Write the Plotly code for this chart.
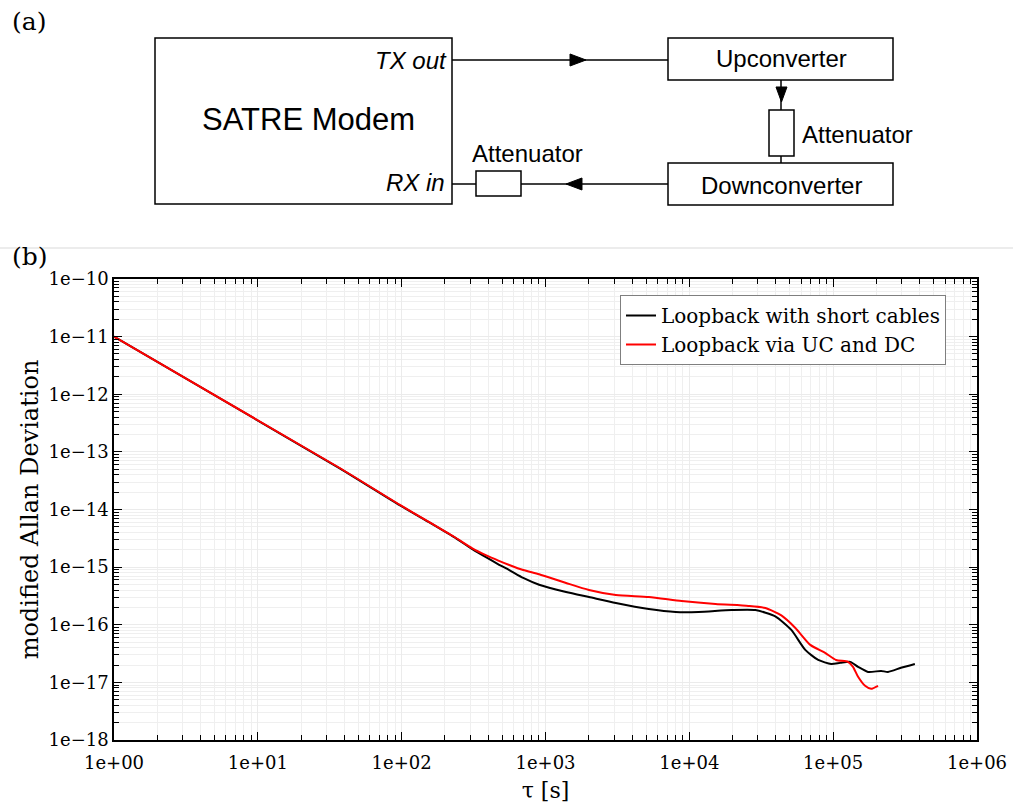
import plotly.graph_objects as go

# Modified Allan deviation, loopback with short cables
tau_short = [1, 37.1, 96.7, 160, 230, 310, 388, 470, 560, 700, 903, 1390, 2005, 3085,
             5224, 8035, 11590, 19630, 28790, 39600, 51170, 63970, 78700, 96850,
             111900, 131300, 149000, 174900, 215300, 240600, 296000, 369800]
mdev_short = [1.0e-11, 5.19e-14, 1.19e-14, 5.75e-15, 3.35e-15, 2.05e-15, 1.47e-15,
              1.12e-15, 8.9e-16, 6.5e-16, 4.95e-16, 3.70e-16, 3.03e-16, 2.39e-16,
              1.88e-16, 1.67e-16, 1.67e-16, 1.80e-16, 1.80e-16, 1.40e-16, 8.13e-17,
              3.66e-17, 2.45e-17, 2.09e-17, 2.18e-17, 2.27e-17, 1.86e-17, 1.52e-17,
              1.58e-17, 1.52e-17, 1.79e-17, 2.09e-17]

# Modified Allan deviation, loopback via upconverter and downconverter
tau_ucdc = [1, 37.1, 96.7, 160, 230, 310, 388, 470, 560, 700, 903, 1390, 2005, 3085,
            5224, 8850, 15210, 25760, 33800, 43620, 54600, 69330, 87950, 104800,
            126800, 137400, 149000, 166700, 183400, 205000]
mdev_ucdc = [1.0e-11, 5.25e-14, 1.21e-14, 5.8e-15, 3.4e-15, 2.12e-15, 1.6e-15,
             1.3e-15, 1.09e-15, 8.9e-16, 7.5e-16, 5.30e-16, 4.01e-16, 3.28e-16,
             3.03e-16, 2.58e-16, 2.29e-16, 2.12e-16, 1.95e-16, 1.45e-16, 8.8e-17,
             4.47e-17, 3.25e-17, 2.45e-17, 2.27e-17, 1.86e-17, 1.25e-17, 8.71e-18,
             7.73e-18, 8.71e-18]

series_names = ["Loopback with short cables", "Loopback via UC and DC"]

x_tickvals = [1e0, 1e1, 1e2, 1e3, 1e4, 1e5, 1e6]
x_ticktext = ["1e+00", "1e+01", "1e+02", "1e+03", "1e+04", "1e+05", "1e+06"]
y_tickvals = [1e-18, 1e-17, 1e-16, 1e-15, 1e-14, 1e-13, 1e-12, 1e-11, 1e-10]
y_ticktext = ["1e\u221218", "1e\u221217", "1e\u221216", "1e\u221215", "1e\u221214",
              "1e\u221213", "1e\u221212", "1e\u221211", "1e\u221210"]

W, H = 1013, 803
L, R, T, B = 114, 36, 279, 63
PW, PH = W - L - R, H - T - B

SERIF = "DejaVu Serif"
SANS = "Liberation Sans"


def px(x):
    return (x - L) / PW


def py(y):
    return (H - B - y) / PH


fig = go.Figure()
fig.add_trace(go.Scatter(x=tau_short, y=mdev_short, mode="lines", name=series_names[0],
                         line=dict(color="black", width=2, shape="spline", smoothing=0.6)))
fig.add_trace(go.Scatter(x=tau_ucdc, y=mdev_ucdc, mode="lines", name=series_names[1],
                         line=dict(color="#ff0000", width=2, shape="spline", smoothing=0.6)))

minor_x = [m * 10 ** k for k in range(0, 6) for m in range(2, 10)]
minor_y = [m * 10.0 ** k for k in range(-18, -10) for m in range(2, 10)]

axis_common = dict(
    type="log", showline=True, linecolor="black", linewidth=1.5, mirror="allticks",
    ticks="inside", ticklen=8, tickwidth=1.2, tickcolor="black",
    showgrid=True, gridcolor="#ebebeb", gridwidth=1, zeroline=False,
    tickfont=dict(family=SERIF, size=18, color="black"),
)

fig.update_xaxes(
    range=[0, 6], tickmode="array", tickvals=x_tickvals, ticktext=x_ticktext,
    ticklabelstandoff=6,
    minor=dict(tickmode="array", tickvals=minor_x, ticks="inside", ticklen=5,
               tickcolor="black", showgrid=True, gridcolor="#efefef"),
    title=dict(text="\u03c4 [s]", font=dict(family=SERIF, size=22, color="black"), standoff=12),
    **axis_common,
)
fig.update_yaxes(
    range=[-18, -10], tickmode="array", tickvals=y_tickvals, ticktext=y_ticktext,
    minor=dict(tickmode="array", tickvals=minor_y, ticks="inside", ticklen=5,
               tickcolor="black", showgrid=True, gridcolor="#efefef"),
    title=dict(text="modified Allan Deviation", font=dict(family=SERIF, size=24, color="black"),
               standoff=3),
    **axis_common,
)

# Block diagram of the loopback set-up
shapes = []


def rect(x0, y0, x1, y1):
    shapes.append(dict(type="rect", xref="paper", yref="paper", x0=px(x0), x1=px(x1),
                       y0=py(y1), y1=py(y0), line=dict(color="black", width=1.5),
                       fillcolor="white"))


def seg(x0, y0, x1, y1, color="black", width=1.5):
    shapes.append(dict(type="line", xref="paper", yref="paper", x0=px(x0), x1=px(x1),
                       y0=py(y0), y1=py(y1), line=dict(color=color, width=width)))


def tri(pts):
    path = "M " + " L ".join(f"{px(a):.5f},{py(b):.5f}" for a, b in pts) + " Z"
    shapes.append(dict(type="path", xref="paper", yref="paper", path=path,
                       fillcolor="black", line=dict(color="black", width=1)))


seg(452, 60, 668, 60)
seg(781, 80, 781, 110)
seg(781, 156, 781, 163)
seg(668, 184, 521, 184)
seg(476, 184, 452, 184)
rect(155, 38, 452, 204)
rect(668, 38, 893, 80)
rect(668, 163, 893, 205)
rect(769, 110, 794, 156)
rect(476, 171, 521, 196)
tri([(570, 54), (586, 60), (570, 66)])
tri([(776, 87), (787, 87), (781.5, 102)])
tri([(582, 178), (566, 184), (582, 190)])
# separator between the two panels
seg(0, 248, W, 248, color="#d9d9d9", width=1)

annotations = []


def label(x, y, text, size=24, family=SANS, xanchor="center"):
    annotations.append(dict(xref="paper", yref="paper", x=px(x), y=py(y), text=text,
                            showarrow=False, xanchor=xanchor, yanchor="middle",
                            font=dict(family=family, size=size, color="black")))


label(308, 120, "SATRE Modem", size=31)
label(449, 61, "<i>TX out</i>", size=24, xanchor="right")
label(447, 183, "<i>RX in</i>", size=24, xanchor="right")
label(781, 58, "Upconverter", size=24)
label(781, 185, "Downconverter", size=24)
label(800, 134, "Attenuator", size=24, xanchor="left")
label(527, 153, "Attenuator", size=24)
label(10, 21, "(a)", size=25, family=SERIF, xanchor="left")
label(10, 256, "(b)", size=25, family=SERIF, xanchor="left")

fig.update_layout(
    width=W, height=H,
    margin=dict(l=L, r=R, t=T, b=B, autoexpand=False),
    paper_bgcolor="white", plot_bgcolor="white",
    shapes=shapes, annotations=annotations,
    showlegend=True,
    legend=dict(x=px(946), y=py(295), xanchor="right", yanchor="top",
                bgcolor="white", bordercolor="#7f7f7f", borderwidth=1,
                font=dict(family=SERIF, size=20, color="black"),
                itemwidth=30, tracegroupgap=0),
)

fig.write_html("out.html")
